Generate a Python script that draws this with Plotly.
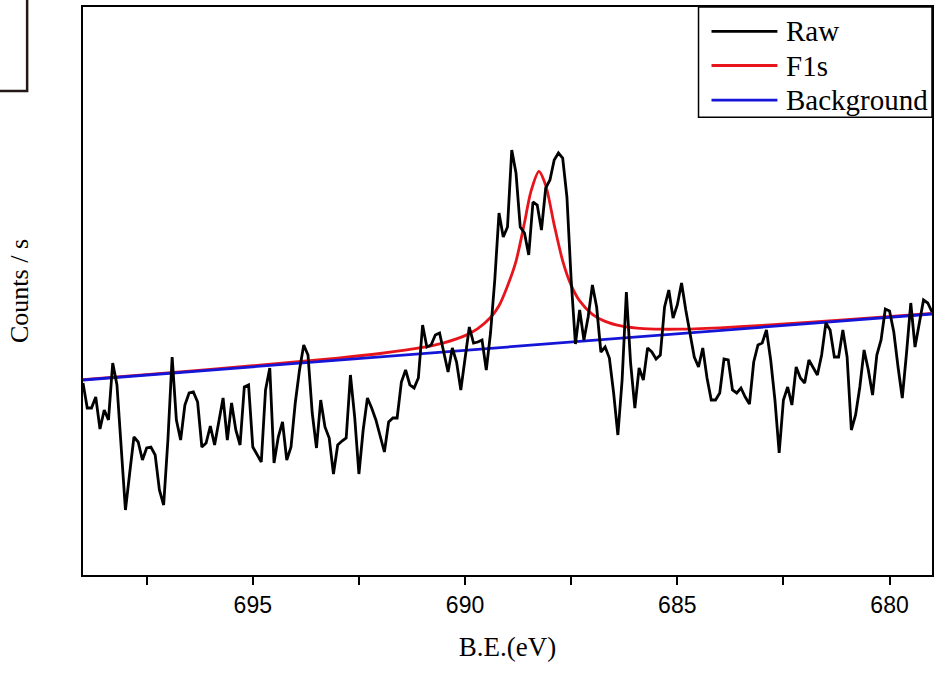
import plotly.graph_objects as go

# binding energy grid of the raw spectrum (eV)
raw_be = [
    699.0, 698.9, 698.8, 698.7, 698.6, 698.5, 698.4, 698.3, 698.2, 698.1,
    698.0, 697.9, 697.8, 697.7, 697.6, 697.5, 697.4, 697.3, 697.2, 697.1,
    697.0, 696.9, 696.8, 696.7, 696.6, 696.5, 696.4, 696.3, 696.2, 696.1,
    696.0, 695.9, 695.8, 695.7, 695.6, 695.5, 695.4, 695.3, 695.2, 695.1,
    695.0, 694.9, 694.8, 694.7, 694.6, 694.5, 694.4, 694.3, 694.2, 694.1,
    694.0, 693.9, 693.8, 693.7, 693.6, 693.5, 693.4, 693.3, 693.2, 693.1,
    693.0, 692.9, 692.8, 692.7, 692.6, 692.5, 692.4, 692.3, 692.2, 692.1,
    692.0, 691.9, 691.8, 691.7, 691.6, 691.5, 691.4, 691.3, 691.2, 691.1,
    691.0, 690.9, 690.8, 690.7, 690.6, 690.5, 690.4, 690.3, 690.2, 690.1,
    690.0, 689.9, 689.8, 689.7, 689.6, 689.5, 689.4, 689.3, 689.2, 689.1,
    689.0, 688.9, 688.8, 688.7, 688.6, 688.5, 688.4, 688.3, 688.2, 688.1,
    688.0, 687.9, 687.8, 687.7, 687.6, 687.5, 687.4, 687.3, 687.2, 687.1,
    687.0, 686.9, 686.8, 686.7, 686.6, 686.5, 686.4, 686.3, 686.2, 686.1,
    686.0, 685.9, 685.8, 685.7, 685.6, 685.5, 685.4, 685.3, 685.2, 685.1,
    685.0, 684.9, 684.8, 684.7, 684.6, 684.5, 684.4, 684.3, 684.2, 684.1,
    684.0, 683.9, 683.8, 683.7, 683.6, 683.5, 683.4, 683.3, 683.2, 683.1,
    683.0, 682.9, 682.8, 682.7, 682.6, 682.5, 682.4, 682.3, 682.2, 682.1,
    682.0, 681.9, 681.8, 681.7, 681.6, 681.5, 681.4, 681.3, 681.2, 681.1,
    681.0, 680.9, 680.8, 680.7, 680.6, 680.5, 680.4, 680.3, 680.2, 680.1,
    680.0, 679.9, 679.8, 679.7, 679.6, 679.5, 679.4, 679.3, 679.2, 679.1,
    679.0,
]

# raw counts (arbitrary units)
raw_counts = [
    192, 167, 167, 178, 146, 165, 155, 212, 190, 125,
    65, 102, 138, 133, 115, 127, 128, 120, 85, 70,
    135, 218, 155, 135, 170, 182, 183, 173, 128, 132,
    149, 130, 152, 177, 135, 172, 145, 130, 188, 190,
    128, 120, 113, 185, 207, 112, 138, 153, 115, 128,
    172, 205, 230, 220, 162, 127, 175, 148, 137, 101,
    130, 134, 137, 200, 158, 101, 145, 177, 167, 155,
    138, 123, 153, 157, 157, 193, 205, 190, 187, 197,
    250, 228, 230, 240, 242, 222, 203, 227, 213, 185,
    215, 248, 232, 233, 235, 205, 242, 295, 362, 338,
    348, 425, 402, 348, 342, 320, 373, 370, 345, 387,
    395, 415, 422, 417, 378, 295, 231, 265, 235, 258,
    290, 268, 223, 228, 217, 182, 140, 195, 283, 212,
    167, 207, 195, 227, 223, 216, 220, 268, 285, 257,
    270, 292, 265, 240, 218, 208, 227, 197, 175, 175,
    182, 216, 215, 185, 182, 187, 178, 171, 213, 230,
    232, 245, 215, 175, 122, 175, 188, 170, 208, 197,
    192, 215, 207, 200, 220, 252, 245, 218, 218, 245,
    218, 145, 160, 188, 225, 205, 180, 220, 235, 266,
    264, 243, 208, 177, 222, 272, 228, 250, 275, 272,
    263,
]

# fitted F1s envelope (peak + background)
fit_be = [
    699.0, 697.0, 695.0, 693.0, 692.0, 691.0, 690.5, 690.0, 689.7, 689.4,
    689.2, 689.0, 688.8, 688.6, 688.45, 688.26, 688.1, 687.9, 687.7, 687.5,
    687.3, 687.0, 686.7, 686.3, 685.8, 685.0, 684.0, 683.0, 681.0, 679.0,
]
fit_counts = [
    195.4, 202.2, 209.3, 216.9, 221.5, 227.6, 232.2, 239.4, 246.4, 257.5,
    269.2, 289.0, 313.7, 352.2, 383.2, 403.5, 389.6, 350.1, 314.2, 289.6,
    274.1, 260.7, 253.6, 248.8, 246.4, 245.8, 247.2, 249.6, 255.4, 261.6,
]

# linear background
bg_be = [699.0, 679.0]
bg_counts = [195, 261]

x_ticks = [695, 690, 685, 680]
x_minor = [697.5, 692.5, 687.5, 682.5]

series_names = ["Raw", "F1s", "Background"]
series_colors = ["black", "#e8141c", "#1515d8"]

serif = "Liberation Serif, Times New Roman, serif"

fig = go.Figure()

# draw order: fit, background, raw on top
fig.add_trace(
    go.Scatter(
        x=fit_be,
        y=fit_counts,
        name=series_names[1],
        mode="lines",
        line=dict(color=series_colors[1], width=2.8, shape="spline", smoothing=0.8),
    )
)
fig.add_trace(
    go.Scatter(
        x=bg_be,
        y=bg_counts,
        name=series_names[2],
        mode="lines",
        line=dict(color=series_colors[2], width=2.8),
    )
)
fig.add_trace(
    go.Scatter(
        x=raw_be,
        y=raw_counts,
        name=series_names[0],
        mode="lines",
        line=dict(color=series_colors[0], width=2.8),
    )
)

# legend drawn by hand so the row spacing matches the original
leg_rows = [0.957, 0.897, 0.836]
fig.add_shape(
    type="rect", xref="paper", yref="paper",
    x0=0.725, x1=1.0, y0=0.806, y1=1.0,
    line=dict(color="black", width=1.5), fillcolor="white", layer="above",
)
for name, color, ry in zip(series_names, series_colors, leg_rows):
    fig.add_shape(
        type="line", xref="paper", yref="paper",
        x0=0.7403, x1=0.8179, y0=ry, y1=ry,
        line=dict(color=color, width=2.8), layer="above",
    )
    fig.add_annotation(
        x=0.826, y=ry, xref="paper", yref="paper",
        xanchor="left", yanchor="middle", showarrow=False,
        text=name, font=dict(family=serif, size=29, color="black"),
    )

# partial frame of a neighbouring panel at top-left
fig.add_shape(
    type="rect", xref="paper", yref="paper",
    x0=-0.2, x1=-0.0658, y0=0.852, y1=1.05,
    line=dict(color="#231815", width=2.5),
    fillcolor="rgba(0,0,0,0)",
)

fig.update_layout(
    width=936,
    height=673,
    margin=dict(l=83, r=2, t=7, b=98),
    plot_bgcolor="white",
    paper_bgcolor="white",
    showlegend=False,
    xaxis=dict(
        range=[699, 679],
        tickvals=x_ticks,
        ticks="outside",
        ticklen=8,
        tickwidth=1.5,
        tickcolor="black",
        minor=dict(ticks="outside", ticklen=8, tickwidth=1.5, tickcolor="black",
                   tickvals=x_minor),
        showgrid=False,
        zeroline=False,
        showline=True,
        mirror=True,
        linecolor="black",
        linewidth=2,
        tickfont=dict(family="Liberation Sans, Arial", size=23, color="black"),
        title=dict(
            text="B.E.(eV)",
            font=dict(family=serif, size=27, color="black"),
            standoff=21,
        ),
    ),
    yaxis=dict(
        range=[0, 568],
        showticklabels=False,
        ticks="",
        showgrid=False,
        zeroline=False,
        showline=True,
        mirror=True,
        linecolor="black",
        linewidth=2,
        title=dict(
            text="Counts / s",
            font=dict(family=serif, size=26, color="black"),
            standoff=45,
        ),
    ),
)

fig.write_html(
    "out.html",
    config={"displayModeBar": False},
    post_script="document.body.style.margin='0px';document.body.style.overflow='hidden';",
)
